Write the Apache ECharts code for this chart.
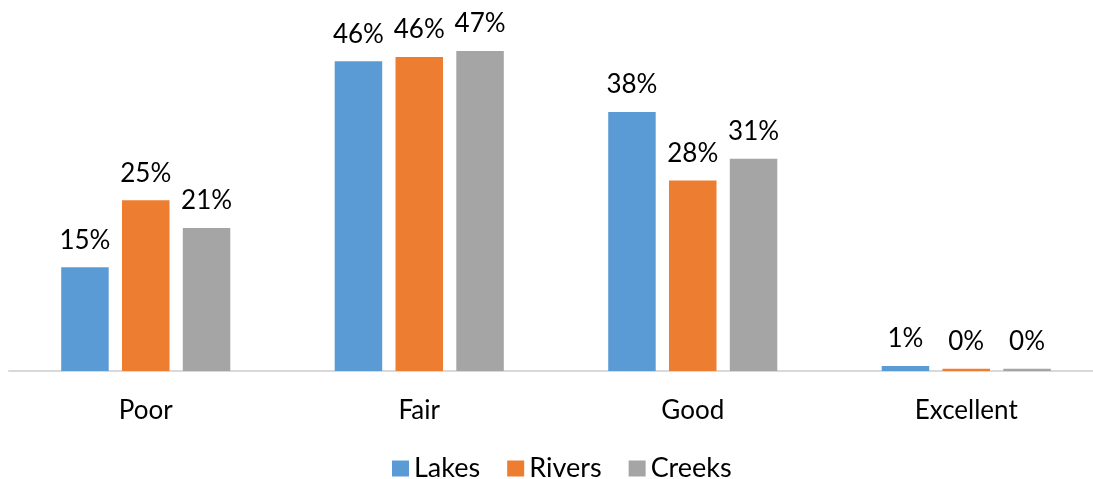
<!DOCTYPE html>
<html>
<head>
<meta charset="utf-8">
<script src="https://cdn.jsdelivr.net/npm/echarts@6/dist/echarts.min.js"></script>
<style>
html,body{margin:0;padding:0;background:#fff;}
#chart{width:1093px;height:479px;}
</style>
</head>
<body>
<div id="chart"></div>
<script>
var categories = ['Poor', 'Fair', 'Good', 'Excellent'];
var lakes = [0.153, 0.457, 0.382, 0.0075];
var rivers = [0.252, 0.463, 0.281, 0.0035];
var creeks = [0.211, 0.472, 0.313, 0.0035];
var seriesNames = ['Lakes', 'Rivers', 'Creeks'];
var colors = ['#5B9BD5', '#ED7D31', '#A5A5A5'];

var FONT = 'Lato';
function pct(p) { return Math.round(p.value * 100) + '%'; }
function mk(name, data, color) {
  return {
    name: name, type: 'bar', data: data,
    barWidth: 47.5, barGap: '28%',
    itemStyle: { color: color },
    label: { show: true, position: 'top', distance: 14, formatter: pct,
      color: '#000', fontFamily: FONT, fontSize: 26 }
  };
}
var chart = echarts.init(document.getElementById('chart'));
chart.setOption({
  animation: false,
  textStyle: { fontFamily: FONT },
  grid: { left: 9, top: 32, width: 1094, height: 339, containLabel: false, outerBoundsMode: 'none' },
  legend: {
    data: seriesNames, top: 455, left: 387, padding: [0, 5],
    itemWidth: 17, itemHeight: 16, itemGap: 27, icon: 'rect',
    textStyle: { fontFamily: FONT, fontSize: 27, color: '#000', lineHeight: 26 }
  },
  xAxis: {
    type: 'category', data: categories,
    axisLine: { lineStyle: { color: '#D9D9D9', width: 2 } },
    axisTick: { show: false },
    axisLabel: { color: '#000', fontFamily: FONT, fontSize: 26, margin: 27 }
  },
  yAxis: { type: 'value', min: 0, max: 0.5, show: false, splitLine: { show: false } },
  series: [mk('Lakes', lakes, colors[0]), mk('Rivers', rivers, colors[1]), mk('Creeks', creeks, colors[2])]
});
</script>
</body>
</html>
